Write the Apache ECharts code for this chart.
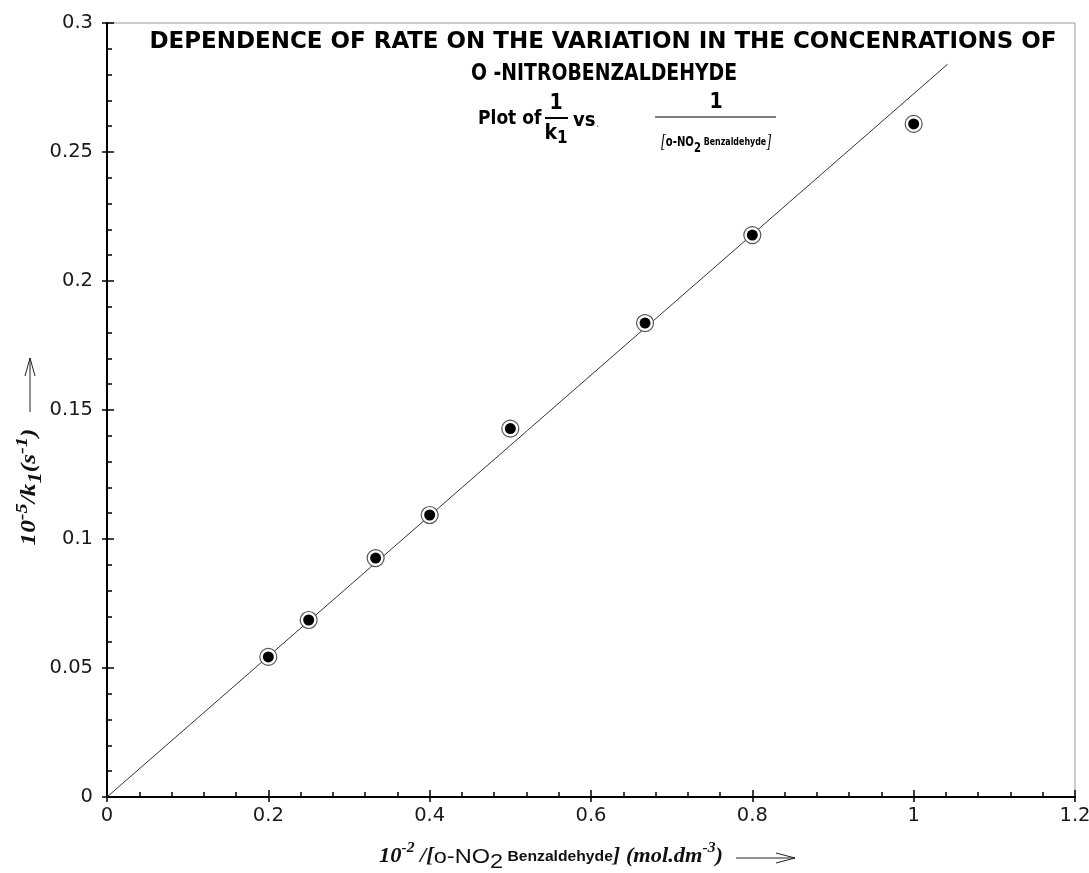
<!DOCTYPE html>
<html><head><meta charset="utf-8">
<script src="https://cdn.jsdelivr.net/npm/echarts@6/dist/echarts.min.js"></script>
<style>html,body{margin:0;padding:0;background:#fff}#c{width:1089px;height:873px}</style>
</head><body><div id="c"></div>
<script>
// Data
const xValues = [0.2, 0.25, 0.333, 0.4, 0.5, 0.667, 0.8, 1.0];      // 10^-2/[o-NO2 Benzaldehyde]
const yValues = [0.0543, 0.0686, 0.0926, 0.1093, 0.1428, 0.1837, 0.2178, 0.2609]; // 10^-5/k1
const fitX = [0, 1.042];
const fitY = [0, 0.284];
const titleLine1 = 'DEPENDENCE OF RATE ON THE VARIATION IN THE CONCENRATIONS OF';
const titleLine2 = 'O -NITROBENZALDEHYDE';

const pts = xValues.map((x, i) => [x, yValues[i]]);
const fit = fitX.map((x, i) => [x, fitY[i]]);

const condensed = '"Liberation Sans Narrow","DejaVu Sans Condensed","Arial Narrow",sans-serif';
const serif = '"Liberation Serif","DejaVu Serif",serif';
const sans = '"Liberation Sans",Arial,sans-serif';

const chart = echarts.init(document.getElementById('c'));
const axisCommon = { type: 'value', splitLine: { show: false } };
const tickLbl = { fontFamily: '"DejaVu Sans",sans-serif', fontSize: 19.5, color: '#1a1a1a' };
chart.setOption({
  animation: false,
  grid: { left: 107, right: 14, top: 23, bottom: 76, show: true, borderColor: '#999', borderWidth: 1,
          outerBoundsMode: 'none', containLabel: false },
  xAxis: [
    Object.assign({}, axisCommon, {
      min: 0, max: 1.2, interval: 0.2, position: 'bottom',
      axisLine: { lineStyle: { color: '#000', width: 2 } },
      axisTick: { inside: false, length: 5, lineStyle: { color: '#000', width: 1.5 } },
      axisLabel: Object.assign({ margin: 9 }, tickLbl)
    }),
    Object.assign({}, axisCommon, {
      min: 0, max: 1.2, interval: 0.2, position: 'bottom',
      axisLine: { show: false },
      axisTick: { inside: true, length: 7, lineStyle: { color: '#000', width: 1.5 } },
      minorTick: { show: true, splitNumber: 5, length: 5, lineStyle: { color: '#000', width: 1.5 } },
      axisLabel: { show: false }
    })
  ],
  yAxis: [
    Object.assign({}, axisCommon, {
      min: 0, max: 0.3, interval: 0.05, position: 'left',
      axisLine: { show: true, lineStyle: { color: '#000', width: 2 } },
      axisTick: { show: true, inside: false, length: 5, lineStyle: { color: '#000', width: 1.5 } },
      axisLabel: Object.assign({ margin: 14 }, tickLbl)
    }),
    Object.assign({}, axisCommon, {
      min: 0, max: 0.3, interval: 0.05, position: 'left',
      axisLine: { show: false },
      axisTick: { show: true, inside: true, length: 7, lineStyle: { color: '#000', width: 1.5 } },
      minorTick: { show: true, splitNumber: 5, length: 5, lineStyle: { color: '#000', width: 1.5 } },
      axisLabel: { show: false }
    })
  ],
  series: [
    { type: 'line', data: fit, showSymbol: false, symbol: 'none', lineStyle: { color: '#333', width: 1 }, z: 2 },
    { type: 'scatter', data: pts, symbol: 'circle', symbolSize: 17,
      itemStyle: { color: '#fff', borderColor: '#555', borderWidth: 1.2, opacity: 1 }, z: 3 },
    { type: 'scatter', data: pts, symbol: 'circle', symbolSize: 11,
      itemStyle: { color: '#000', opacity: 1 }, z: 4 }
  ],
  graphic: [
    { type: 'text', x: 603, y: 42, scaleX: 1.11, z: 10, style: { text: titleLine1, font: 'bold 23px ' + condensed, fill: '#000', align: 'center', verticalAlign: 'middle' } },
    { type: 'text', x: 604, y: 74, scaleX: 0.91, z: 10, style: { text: titleLine2, font: 'bold 23px ' + condensed, fill: '#000', align: 'center', verticalAlign: 'middle' } },
    // Plot of 1/k1 vs. 1/[o-NO2 Benzaldehyde]
    { type: 'text', x: 478, y: 119, scaleX: 0.95, z: 10, style: { text: 'Plot of', font: 'bold 20px ' + condensed, fill: '#000', align: 'left', verticalAlign: 'middle' } },
    { type: 'text', x: 556, y: 104, z: 10, style: { text: '1', font: 'bold 21px ' + condensed, fill: '#000', align: 'center', verticalAlign: 'middle' } },
    { type: 'line', z: 10, shape: { x1: 545, y1: 118, x2: 568, y2: 118 }, style: { stroke: '#000', lineWidth: 2 } },
    { type: 'text', x: 556, y: 134, z: 10, style: {
        text: '{k|k}{s|1}', fill: '#000', align: 'center', verticalAlign: 'middle',
        rich: { k: { font: 'bold 21px ' + condensed, fill: '#000', lineHeight: 26, verticalAlign: 'middle' },
                s: { font: 'bold 17px ' + condensed, fill: '#000', lineHeight: 22, verticalAlign: 'bottom' } } } },
    { type: 'text', x: 573, y: 121, z: 10, style: { text: 'vs', font: 'bold 20px ' + condensed, fill: '#000', align: 'left', verticalAlign: 'middle' } },
    { type: 'text', x: 596, y: 124, z: 10, style: { text: '.', font: '12px ' + sans, fill: '#777', align: 'left', verticalAlign: 'middle' } },
    { type: 'text', x: 716, y: 103, z: 10, style: { text: '1', font: 'bold 21px ' + condensed, fill: '#000', align: 'center', verticalAlign: 'middle' } },
    { type: 'line', z: 10, shape: { x1: 655, y1: 117, x2: 776, y2: 117 }, style: { stroke: '#000', lineWidth: 1 } },
    { type: 'text', x: 716, y: 142, scaleX: 0.8, z: 10, style: {
        text: '{br|[}{a|o-NO}{s|2}{b| Benzaldehyde}{br|]}', fill: '#000', align: 'center', verticalAlign: 'middle',
        rich: {
          br: { font: 'italic 18px ' + serif, fill: '#000', lineHeight: 26, verticalAlign: 'middle' },
          a: { font: 'bold 14px ' + condensed, fill: '#000', lineHeight: 26, verticalAlign: 'middle' },
          s: { font: 'bold 14px ' + condensed, fill: '#000', lineHeight: 16, verticalAlign: 'bottom' },
          b: { font: 'bold 11px ' + condensed, fill: '#000', lineHeight: 26, verticalAlign: 'middle' }
        } } },
    // x axis name
    { type: 'text', x: 551, y: 857, scaleX: 1.12, z: 10, style: {
        text: '{i|10}{sup|-2}{i| /[}{a|o-NO}{sub|2}{b| Benzaldehyde}{i|] (mol.dm}{sup|-3}{i|)}',
        fill: '#000', align: 'center', verticalAlign: 'middle',
        rich: {
          i: { font: 'italic bold 20px ' + serif, fill: '#111', lineHeight: 32, verticalAlign: 'middle' },
          sup: { font: 'italic bold 14px ' + serif, fill: '#111', lineHeight: 30, verticalAlign: 'top' },
          a: { font: '21px ' + sans, fill: '#111', lineHeight: 32, verticalAlign: 'middle' },
          sub: { font: '21px ' + sans, fill: '#111', lineHeight: 24, verticalAlign: 'bottom' },
          b: { font: 'bold 14px ' + sans, fill: '#111', lineHeight: 32, verticalAlign: 'middle' }
        } } },
    { type: 'line', z: 10, shape: { x1: 736, y1: 858, x2: 795, y2: 858 }, style: { stroke: '#222', lineWidth: 1 } },
    { type: 'polyline', z: 10, shape: { points: [[776, 853], [795, 858], [776, 863]] }, style: { stroke: '#222', lineWidth: 1, fill: null } },
    // y axis name (rotated)
    { type: 'text', x: 30, y: 487, rotation: Math.PI / 2, scaleX: 1.2, z: 10, style: {
        text: '{i|10}{sup|-5}{i|/k}{sub|1}{i|(s}{sup|-1}{i|)}',
        fill: '#000', align: 'center', verticalAlign: 'middle',
        rich: {
          i: { font: 'italic bold 21px ' + serif, fill: '#111', lineHeight: 32, verticalAlign: 'middle' },
          sup: { font: 'italic bold 17px ' + serif, fill: '#111', lineHeight: 32, verticalAlign: 'top' },
          sub: { font: 'italic bold 19px ' + serif, fill: '#111', lineHeight: 24, verticalAlign: 'bottom' }
        } } },
    { type: 'line', z: 10, shape: { x1: 30, y1: 412, x2: 30, y2: 358 }, style: { stroke: '#222', lineWidth: 1 } },
    { type: 'polyline', z: 10, shape: { points: [[25, 376], [30, 358], [35, 376]] }, style: { stroke: '#222', lineWidth: 1, fill: null } }
  ]
});
</script>
</body></html>
